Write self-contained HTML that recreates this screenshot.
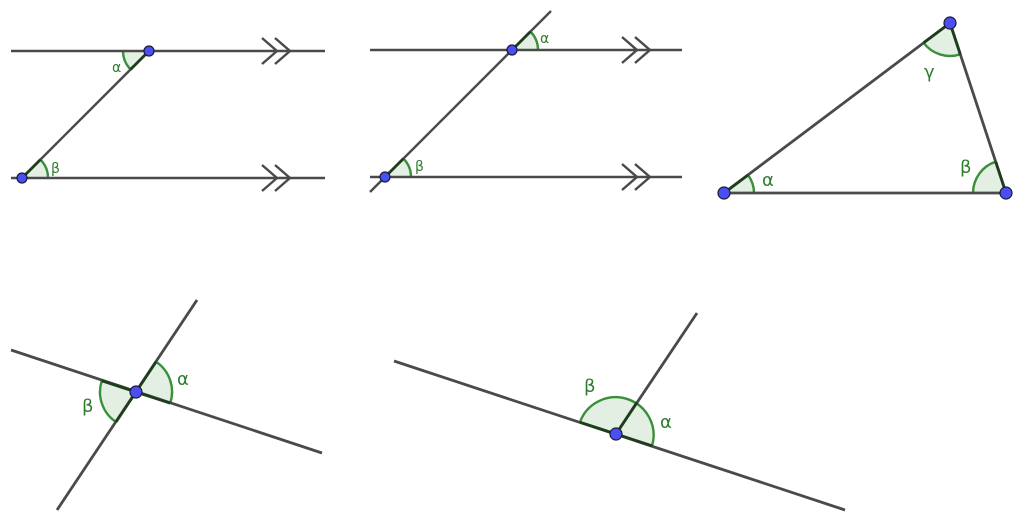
<!DOCTYPE html>
<html><head><meta charset="utf-8"><style>
html,body{margin:0;padding:0;background:#fff;}
svg{display:block;}
text{font-family:"DejaVu Sans","Liberation Sans",sans-serif;fill:#2e7d2e;}
</style></head><body>
<svg width="1024" height="527" viewBox="0 0 1024 527" xmlns="http://www.w3.org/2000/svg">
<g fill="#e3efe3" stroke="#3a8f3a" stroke-width="2.4">
  <path d="M149 51 L123 51 A26 26 0 0 0 130.6 69.4 Z" stroke="none"/>
  <path d="M123 51 A26 26 0 0 0 130.6 69.4" fill="none"/>
  <path d="M22 178 L48 178 A26 26 0 0 0 40.4 159.6 Z" stroke="none"/>
  <path d="M48 178 A26 26 0 0 0 40.4 159.6" fill="none"/>
  <path d="M512 50 L538 50 A26 26 0 0 0 530.4 31.6 Z" stroke="none"/>
  <path d="M538 50 A26 26 0 0 0 530.4 31.6" fill="none"/>
  <path d="M385 177 L411 177 A26 26 0 0 0 403.4 158.6 Z" stroke="none"/>
  <path d="M411 177 A26 26 0 0 0 403.4 158.6" fill="none"/>
  <path d="M724 193 L754 193 A30 30 0 0 0 748 175 Z" stroke="none"/>
  <path d="M754 193 A30 30 0 0 0 748 175" fill="none"/>
  <path d="M1006 193 L973 193 A33 33 0 0 1 995.7 161.7 Z" stroke="none"/>
  <path d="M973 193 A33 33 0 0 1 995.7 161.7" fill="none"/>
  <path d="M950 23 L923.6 42.8 A33 33 0 0 0 960.3 54.3 Z" stroke="none"/>
  <path d="M923.6 42.8 A33 33 0 0 0 960.3 54.3" fill="none"/>
  <path d="M136 392 L156 361.8 A36 36 0 0 1 170.2 403.2 Z" stroke="none"/>
  <path d="M156 361.8 A36 36 0 0 1 170.2 403.2" fill="none"/>
  <path d="M136 392 L101.8 380.8 A36 36 0 0 0 116 422 Z" stroke="none"/>
  <path d="M101.8 380.8 A36 36 0 0 0 116 422" fill="none"/>
  <path d="M616 434 L579.9 422.2 A38 38 0 0 1 652.1 445.8 Z" stroke="none"/>
  <path d="M579.9 422.2 A38 38 0 0 1 652.1 445.8" fill="none"/>
</g>
<g stroke="#4a4a4a" stroke-width="2.4" fill="none">
  <line x1="11" y1="51" x2="325" y2="51"/>
  <line x1="11" y1="178" x2="325" y2="178"/>
  <line x1="149" y1="51" x2="22" y2="178"/>
  <polyline points="262,38 277,51 262,64"/><polyline points="275,38 290,51 275,64"/>
  <polyline points="262,165 277,178 262,191"/><polyline points="275,165 290,178 275,191"/>
  <line x1="370" y1="50" x2="682" y2="50"/>
  <line x1="370" y1="177" x2="682" y2="177"/>
  <line x1="370" y1="192" x2="551" y2="11"/>
  <polyline points="622,37 637,50 622,63"/><polyline points="635,37 650,50 635,63"/>
  <polyline points="622,164 637,177 622,190"/><polyline points="635,164 650,177 635,190"/>
  <polygon points="724,193 1006,193 950,23" stroke-width="2.8"/>
  <line x1="11" y1="350" x2="322" y2="453" stroke-width="2.8"/>
  <line x1="197" y1="300" x2="57" y2="510" stroke-width="2.8"/>
  <line x1="394" y1="361" x2="845" y2="510" stroke-width="2.8"/>
  <line x1="616" y1="434" x2="697" y2="313" stroke-width="2.8"/>
</g>
<g stroke="#1d3d1d" stroke-width="2.8" fill="none">
  <line x1="149" y1="51" x2="130.6" y2="69.4"/><line x1="22" y1="178" x2="40.4" y2="159.6"/>
  <line x1="512" y1="50" x2="530.4" y2="31.6"/><line x1="385" y1="177" x2="403.4" y2="158.6"/>
  <line x1="724" y1="193" x2="748" y2="175"/><line x1="1006" y1="193" x2="995.7" y2="161.7"/>
  <line x1="950" y1="23" x2="923.6" y2="42.8"/><line x1="950" y1="23" x2="960.3" y2="54.3"/>
  <line x1="136" y1="392" x2="156" y2="361.8"/><line x1="136" y1="392" x2="170.2" y2="403.2"/>
  <line x1="136" y1="392" x2="101.8" y2="380.8"/><line x1="136" y1="392" x2="116" y2="422"/>
  <line x1="616" y1="434" x2="579.9" y2="422.2"/><line x1="616" y1="434" x2="652.1" y2="445.8"/>
  <line x1="616" y1="434" x2="637" y2="402.3"/>
</g>
<g fill="#4b4ff2" stroke="#1a1a3a" stroke-width="1.2">
  <circle cx="149" cy="51" r="5"/><circle cx="22" cy="178" r="5"/>
  <circle cx="512" cy="50" r="5"/><circle cx="385" cy="177" r="5"/>
  <circle cx="724" cy="193" r="6"/><circle cx="1006" cy="193" r="6"/><circle cx="950" cy="23" r="6"/>
  <circle cx="136" cy="392" r="6"/><circle cx="616" cy="434" r="6"/>
</g>
<g font-size="14">
  <text x="112" y="72">α</text>
  <text x="51" y="173">β</text>
  <text x="540" y="43">α</text>
  <text x="415" y="171">β</text>
</g>
<g font-size="18">
  <text x="762" y="186">α</text>
  <text x="960" y="173">β</text>
  <text x="924" y="78">γ</text>
  <text x="177" y="385">α</text>
  <text x="82" y="412">β</text>
  <text x="660" y="428">α</text>
  <text x="584" y="392">β</text>
</g>
</svg>
</body></html>
